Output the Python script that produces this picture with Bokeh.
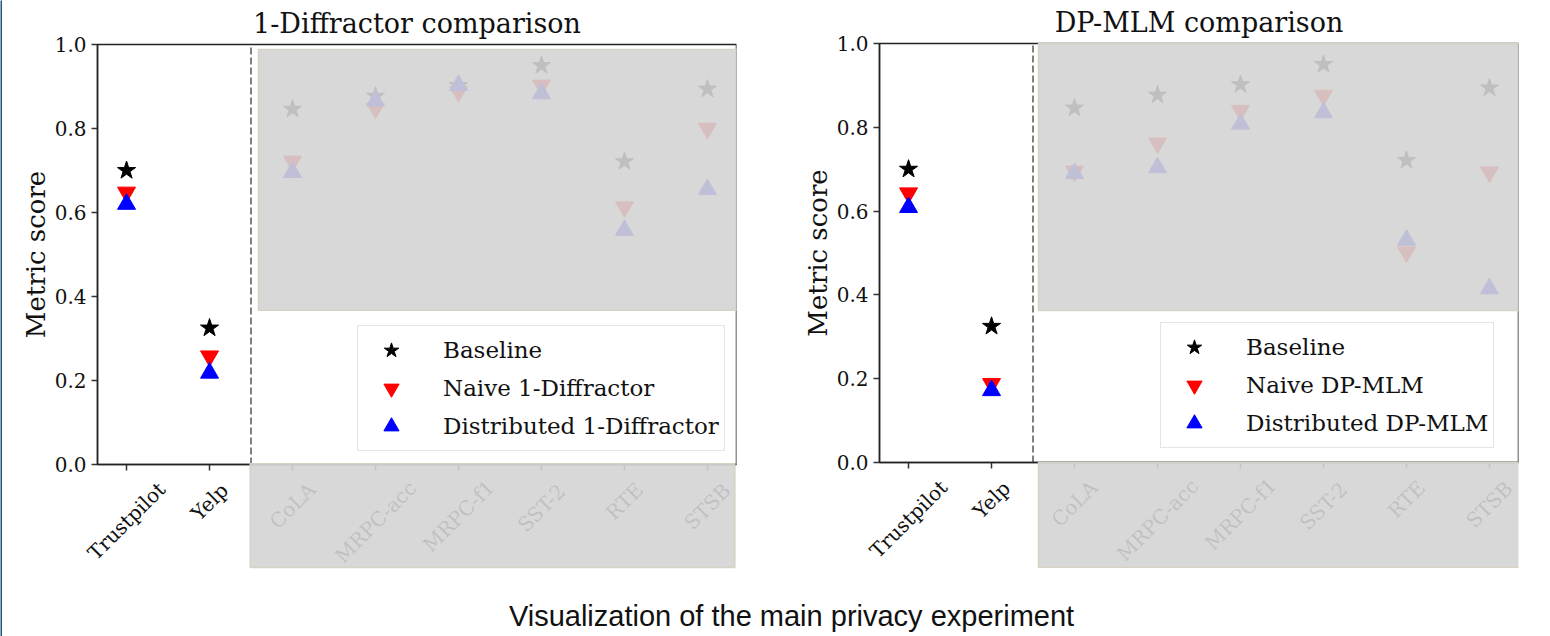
import math
from bokeh.plotting import figure
from bokeh.models import (Range1d, FixedTicker, BoxAnnotation, Label, Legend,
                          LegendItem, NumeralTickFormatter)
from bokeh.layouts import column, row
from bokeh.embed import file_html
from bokeh.resources import INLINE

# ---------------- data ----------------
categories = ["Trustpilot", "Yelp", "CoLA", "MRPC-acc", "MRPC-f1", "SST-2", "RTE", "STSB"]
n_private = 2  # Trustpilot, Yelp (left of the dashed separator)
baseline = [0.700, 0.325, 0.846, 0.877, 0.902, 0.950, 0.721, 0.894]
naive_diffractor = [0.648, 0.258, 0.722, 0.848, 0.888, 0.903, 0.613, 0.800]
distributed_diffractor = [0.620, 0.218, 0.696, 0.866, 0.903, 0.883, 0.558, 0.655]
naive_dpmlm = [0.643, 0.188, 0.695, 0.762, 0.840, 0.876, 0.502, 0.693]
distributed_dpmlm = [0.609, 0.172, 0.690, 0.704, 0.808, 0.835, 0.531, 0.415]
y_ticks = [0.0, 0.2, 0.4, 0.6, 0.8, 1.0]

SERIF = "DejaVu Serif"
TICK_FS = 20
FIG_H = 573
B_TOP = 2
PAD = 0.35          # matplotlib-like side margin (in category units)
CORE_W = 639        # pixel width of the axes box


def text_len_px(s, size):
    w = 0.0
    for ch in s:
        if ch.isupper():
            w += 0.75
        elif ch in "iltfjr-.":
            w += 0.38
        else:
            w += 0.6
    return w * size


def make_panel(title, naive, dist, naive_label, dist_label, width, b_left, b_right,
               gutter, core_top, core_bottom, legend_loc, box_up, box_low):
    n = len(categories)
    xs = list(range(n))
    y0, y1 = y_ticks[0], y_ticks[-1]
    x_ax, x_hi = -PAD, n - 1 + PAD
    ppu_x = CORE_W / (x_hi - x_ax)
    x_lo = x_ax - gutter / ppu_x
    ppu_y = (core_bottom - core_top) / (y1 - y0)
    y_hi = y1 + (core_top - B_TOP) / ppu_y
    y_lo = y0 - (FIG_H - core_bottom) / ppu_y
    p = figure(width=width, height=FIG_H, x_range=Range1d(x_lo, x_hi),
               y_range=Range1d(y_lo, y_hi), output_backend="svg", toolbar_location=None,
               min_border_left=b_left, min_border_right=b_right,
               min_border_top=B_TOP, min_border_bottom=0, title=None)
    p.xgrid.visible = False
    p.ygrid.visible = False
    p.background_fill_color = "white"
    p.border_fill_color = "white"
    p.outline_line_color = None

    # axes
    for ax in (p.xaxis[0], p.yaxis[0]):
        ax.axis_line_color = "#333333"
        ax.axis_line_width = 1.5
        ax.major_tick_line_color = "#333333"
        ax.major_tick_line_width = 1.5
        ax.major_tick_out = 6
        ax.major_tick_in = 0
        ax.minor_tick_line_color = None
        ax.major_label_text_font = SERIF
        ax.major_label_text_font_size = f"{TICK_FS}px"
        ax.major_label_text_color = "#111111"
    p.yaxis.ticker = FixedTicker(ticks=y_ticks)
    p.yaxis.formatter = NumeralTickFormatter(format="0.0")
    p.yaxis.major_label_standoff = 5
    p.yaxis.bounds = (y0, y1)
    p.yaxis.fixed_location = x_ax
    p.xaxis.ticker = FixedTicker(ticks=xs)
    p.xaxis.major_label_overrides = {i: "" for i in xs}
    p.xaxis.bounds = (x_ax, x_hi)
    p.xaxis.fixed_location = y0

    # title and y-axis label
    p.add_layout(Label(x=(x_ax + x_hi) / 2, y=y1, y_offset=21, text=title,
                       text_align="center", text_baseline="middle",
                       text_font=SERIF, text_font_size="27px", text_color="#111111"))
    p.add_layout(Label(x=x_ax, y=(y0 + y1) / 2, x_offset=-62, text="Metric score",
                       angle=math.pi / 2, text_align="center", text_baseline="middle",
                       text_font=SERIF, text_font_size="26px", text_color="#111111"))

    # markers
    r_base = p.scatter(xs, baseline, marker="star", size=19, color="black")
    r_naive = p.scatter(xs, naive, marker="inverted_triangle", size=18, color="#ff0000")
    r_dist = p.scatter(xs, dist, marker="triangle", size=18, color="#0000ff")

    # dashed separator between the private datasets and GLUE tasks
    sep = n_private - 0.5
    p.line([sep, sep], [y0, y1], line_color="#808080", line_width=2, line_dash="7 3")

    # spines (top / right)
    p.add_layout(BoxAnnotation(left=x_ax, right=x_hi, top=y1, bottom=y0,
                               fill_color=None, line_color="#222222", line_alpha=1.0,
                               line_width=1.5))

    # rotated category labels, centred under their tick
    for i, c in enumerate(categories):
        half = 0.354 * (text_len_px(c, TICK_FS) + 22)
        p.add_layout(Label(x=i, y=y0, x_units="data", y_units="data", text=c,
                           angle=math.pi / 4, text_align="center", text_baseline="middle",
                           y_offset=-(13 + half), text_font=SERIF,
                           text_font_size=f"{TICK_FS}px", text_color="#111111"))

    # grey overlays over the GLUE part
    for (l, r, t, b) in (box_up, box_low):
        p.add_layout(BoxAnnotation(left=l, right=r, top=t, bottom=b,
                                   fill_color="#d4d4d4", fill_alpha=0.9,
                                   line_color="#d6d2c4", line_alpha=1.0, line_width=1.5))

    legend = Legend(items=[LegendItem(label="Baseline", renderers=[r_base]),
                           LegendItem(label=naive_label, renderers=[r_naive]),
                           LegendItem(label=dist_label, renderers=[r_dist])],
                    location=legend_loc)
    legend.label_text_font = SERIF
    legend.label_text_font_size = "23px"
    legend.label_text_color = "#111111"
    legend.glyph_width = 56
    legend.glyph_height = 38
    legend.label_height = 38
    legend.spacing = -1
    legend.padding = 5
    legend.label_standoff = 24
    legend.border_line_color = "#cccccc"
    legend.border_line_width = 1.5
    legend.background_fill_color = "white"
    legend.background_fill_alpha = 1.0
    p.add_layout(legend)
    return p


p1 = make_panel("1-Diffractor comparison", naive_diffractor, distributed_diffractor,
                "Naive 1-Diffractor", "Distributed 1-Diffractor",
                width=749, b_left=10, b_right=15, gutter=85, core_top=44, core_bottom=464,
                legend_loc=(345, 122),
                box_up=(1.59, 7.41, 0.988, 0.367), box_low=(1.49, 7.33, 0.002, -0.245))
p2 = make_panel("DP-MLM comparison", naive_dpmlm, distributed_dpmlm,
                "Naive DP-MLM", "Distributed DP-MLM",
                width=799, b_left=10, b_right=32, gutter=118, core_top=43, core_bottom=462,
                legend_loc=(399, 125),
                box_up=(1.566, 7.39, 1.0, 0.363), box_low=(1.566, 7.40, 0.0, -0.25))

CAP_H = 636 - FIG_H
cap = figure(width=1548, height=CAP_H, x_range=Range1d(0, 1548),
             y_range=Range1d(0, CAP_H), output_backend="svg", toolbar_location=None,
             x_axis_type=None, y_axis_type=None, min_border=0, title=None)
cap.xgrid.visible = False
cap.ygrid.visible = False
cap.outline_line_color = None
cap.add_layout(Label(x=789, y=21, text="Visualization of the main privacy experiment",
                     text_align="center", text_baseline="middle",
                     text_font="Liberation Sans", text_font_size="29px",
                     text_color="#111111"))

# thin dark-blue edge seen at the far left of the reference
stripe = figure(width=2, height=636, output_backend="svg", toolbar_location=None,
                x_axis_type=None, y_axis_type=None, min_border=0, title=None,
                x_range=Range1d(0, 1), y_range=Range1d(0, 1))
stripe.xgrid.visible = False
stripe.ygrid.visible = False
stripe.outline_line_color = None
stripe.background_fill_color = "#22557a"
stripe.border_fill_color = "#22557a"

layout = row(stripe, column(row(p1, p2), cap))
open("out.html", "w").write(file_html(layout, INLINE))
